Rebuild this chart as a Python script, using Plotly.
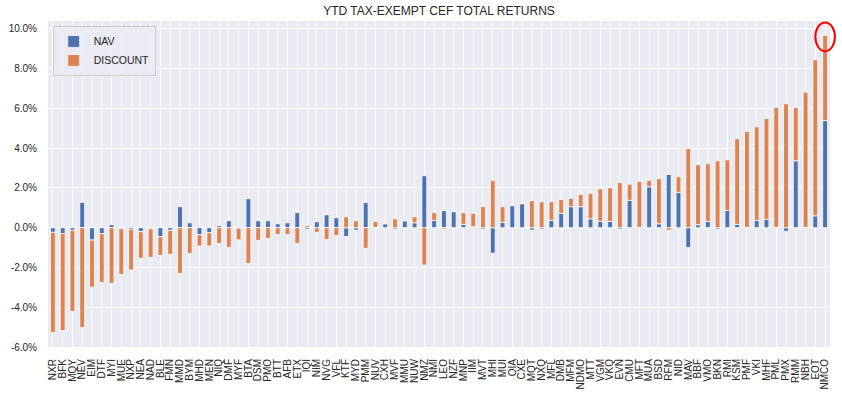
import plotly.graph_objects as go

tickers = ["NXR","BFK","MQY","NEV","EIM","DTF","MYI","MUE","NXP","NEA",
           "NAD","BLE","FMN","MMD","BYM","MHD","MEN","NIQ","DMF","MYF",
           "BTA","DSM","PMO","BTT","AFB","ETX","IQI","NIM","NVG","VFL",
           "KTF","MYD","PMM","NUV","CXH","MVF","MMU","NUW","NMZ","NMI",
           "LEO","NZF","MNP","IIM","MVT","MHI","MUI","OIA","CXE","MQT",
           "NXQ","MFL","DMB","MFM","NDMO","MTT","VGM","VKQ","EVN","CMU",
           "MFT","MUA","BSD","RFM","NID","MAV","BBF","VMO","BKN","RMI",
           "KSM","PMF","VKI","MHF","PML","PMX","RMM","NBH","EOT","NMCO"]

nav = [-0.23,-0.29,-0.13,1.28,-0.62,-0.30,0.15,-0.05,-0.08,-0.20,
       -0.05,-0.45,-0.13,1.06,0.25,-0.35,-0.25,0.10,0.35,-0.02,
       1.46,0.35,0.35,0.20,0.25,0.76,-0.08,0.30,0.65,0.50,
       -0.44,-0.12,1.26,0.02,0.20,-0.07,0.35,0.25,2.62,0.37,
       0.86,0.81,0.17,0.05,-0.07,-1.28,0.27,1.11,1.21,-0.12,
       -0.07,0.37,0.72,1.06,1.06,0.45,0.32,0.32,-0.08,1.38,
       0.02,2.06,0.20,2.68,1.78,-0.99,0.15,0.32,-0.07,0.87,
       0.17,0.02,0.37,0.42,0.02,-0.18,3.37,0.02,0.60,5.39]

discount = [-5.03,-4.88,-4.08,-5.02,-2.37,-2.45,-2.80,-2.30,-2.05,-1.34,
            -1.44,-0.94,-1.21,-2.30,-1.29,-0.57,-0.67,-0.79,-0.99,-0.59,
            -1.80,-0.64,-0.54,-0.34,-0.34,-0.79,0.10,-0.23,-0.59,-0.39,
            0.55,0.35,-1.04,0.30,0.03,0.45,0.03,0.30,-1.88,0.39,
            -0.07,0.02,0.59,0.68,1.06,2.37,0.79,0.02,0.02,1.36,
            1.31,0.94,0.70,0.42,0.62,1.28,1.64,1.69,2.27,0.81,
            2.32,0.32,2.27,-0.13,0.79,3.98,3.02,2.90,3.37,2.55,
            4.31,4.83,4.71,5.07,6.04,6.24,2.67,6.80,7.85,4.28]

y_ticks = [10, 8, 6, 4, 2, 0, -2, -4, -6]
y_tick_text = ["10.0%", "8.0%", "6.0%", "4.0%", "2.0%", "0.0%", "-2.0%", "-4.0%", "-6.0%"]

NAV_COLOR = "#4C72B0"
DISC_COLOR = "#DD8452"
FONT = "Liberation Sans, Arial, sans-serif"
TXT = "#262626"

Y_MIN, Y_MAX = -6.0, 10.4
n = len(tickers)

fig = go.Figure()
fig.add_trace(go.Bar(x=tickers, y=nav, name="NAV", width=0.5,
                     marker=dict(color=NAV_COLOR, line=dict(color="white", width=0.8))))
fig.add_trace(go.Bar(x=tickers, y=discount, name="DISCOUNT", width=0.5,
                     marker=dict(color=DISC_COLOR, line=dict(color="white", width=0.8))))

# red circle highlighting the top performer (paper coords so it is not clipped)
last = n - 1
top = nav[-1] + discount[-1]
cx = (last + 0.5) / n
cy = (top - Y_MIN) / (Y_MAX - Y_MIN)
fig.add_shape(type="circle", xref="paper", yref="paper",
              x0=cx - 0.0125, x1=cx + 0.0125, y0=cy - 0.048, y1=cy + 0.040,
              line=dict(color="red", width=2))

fig.update_layout(
    width=842, height=397,
    margin=dict(l=48, r=12, t=21, b=50),
    paper_bgcolor="white",
    plot_bgcolor="#EAEAF2",
    barmode="relative",
    bargap=0.5,
    font=dict(family=FONT, size=10, color=TXT),
    title=dict(text="YTD TAX-EXEMPT CEF TOTAL RETURNS", xref="paper", x=0.5, xanchor="center",
               yref="container", y=1 - 11 / 397, yanchor="middle", font=dict(size=12, color=TXT)),
    legend=dict(x=0.006, y=0.985, xanchor="left", yanchor="top",
                bgcolor="rgba(234,234,242,0.9)", bordercolor="#cccccc", borderwidth=1,
                font=dict(size=10.5, color=TXT), tracegroupgap=0,
                itemwidth=30),
    showlegend=True,
)
fig.update_xaxes(
    range=[-0.5, n - 0.5],
    tickmode="array", tickvals=tickers, ticktext=tickers,
    showgrid=True, gridcolor="white", gridwidth=1,
    tickangle=-90, tickfont=dict(size=10, color=TXT),
    ticks="outside", ticklen=7, tickcolor="rgba(0,0,0,0)",
    zeroline=False, showline=False, automargin=False,
)
fig.update_yaxes(
    range=[Y_MIN, Y_MAX],
    tickvals=y_ticks, ticktext=y_tick_text,
    showgrid=True, gridcolor="white", gridwidth=1,
    zeroline=False, showline=False, ticks="",
    ticklabelstandoff=10, automargin=False,
    tickfont=dict(size=10, color=TXT),
)

fig.write_html("out.html", config={"displayModeBar": False},
               post_script="document.body.style.margin='0';")
